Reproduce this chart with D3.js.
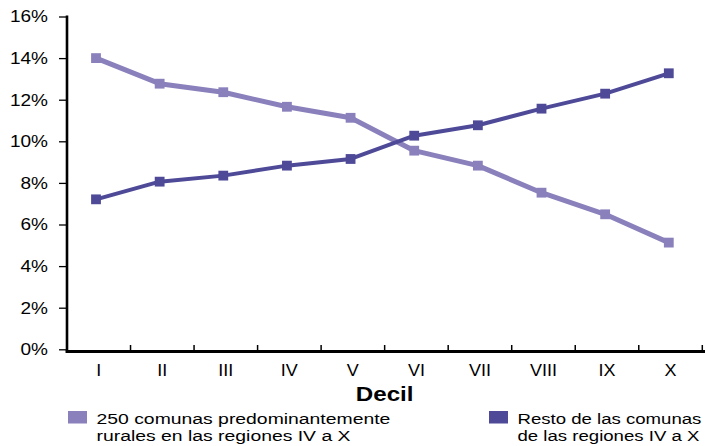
<!DOCTYPE html>
<html><head><meta charset="utf-8">
<script src="https://cdn.jsdelivr.net/npm/d3@7"></script>
<style>body{margin:0;background:#fff}svg{display:block;font-family:"Liberation Sans",Arial,sans-serif}</style>
</head><body><svg id="c" width="705" height="446"></svg>
<script>
const categories = ["I","II","III","IV","V","VI","VII","VIII","IX","X"];
const rural = [14.0, 12.77, 12.36, 11.66, 11.13, 9.55, 8.83, 7.53, 6.49, 5.13];
const resto = [7.21, 8.06, 8.35, 8.83, 9.15, 10.27, 10.77, 11.57, 12.29, 13.27];
const yTicks = [0,2,4,6,8,10,12,14,16];
const seriesNames = [["250 comunas predominantemente","rurales en las regiones IV a X"],["Resto de las comunas","de las regiones IV a X"]];
const colors = ["#8a80bb","#4e4a98"];

const svg = d3.select("#c");
const y = d3.scaleLinear().domain([0,16]).range([349.3,16.5]);
const xb = d3.scaleBand().domain(categories).range([67,702.3]);
const xp = d3.scalePoint().domain(categories).range([96,668.8]);

// y axis
const yAxis = d3.axisLeft(y).tickValues(yTicks).tickFormat(d=>d+"%").tickSize(8).tickPadding(11);
const gy = svg.append("g").attr("transform","translate(67,0)").call(yAxis);
gy.select(".domain").remove();
gy.selectAll(".tick line").attr("stroke","#000").attr("stroke-width",1.3);
gy.selectAll(".tick text").attr("font-size",17).attr("fill","#000").attr("font-family","Liberation Sans, Arial, sans-serif")
  .attr("x",0).attr("transform","translate(-19,0) scale(1.12,1)");
svg.append("line").attr("x1",67).attr("x2",67).attr("y1",y(16)-1).attr("y2",y(0)+3.5).attr("stroke","#000").attr("stroke-width",2.6);

// x axis
const xAxisY = y(0)+2.2;
const gx = svg.append("g").attr("transform",`translate(0,${xAxisY})`).call(d3.axisBottom(xb).tickSize(0).tickPadding(9));
gx.select(".domain").remove();
gx.selectAll(".tick text").attr("font-size",17).attr("fill","#000").attr("dy","0.9em").attr("font-family","Liberation Sans, Arial, sans-serif")
  .attr("transform","scale(1.06,1)");
svg.append("line").attr("x1",65.7).attr("x2",705).attr("y1",xAxisY).attr("y2",xAxisY).attr("stroke","#000").attr("stroke-width",2.8);
svg.append("g").selectAll("line").data(categories).join("line")
  .attr("x1",d=>xb(d)+xb.bandwidth()).attr("x2",d=>xb(d)+xb.bandwidth())
  .attr("y1",xAxisY).attr("y2",xAxisY-6.5).attr("stroke","#000").attr("stroke-width",1.5);
svg.append("text").attr("x",0).attr("y",0).attr("text-anchor","middle")
  .attr("transform",`translate(${(xb.range()[0]+xb.range()[1])/2},401) scale(1.15,1)`)
  .attr("font-size",21).attr("font-weight","bold").text("Decil");

// lines
const series = [rural, resto];
const widths = [5, 4];
const line = d3.line().x((d,i)=>xp(categories[i])).y(d=>y(d));
series.forEach((s,k)=>{
  svg.append("path").datum(s).attr("d",line).attr("fill","none").attr("stroke",colors[k]).attr("stroke-width",widths[k]).attr("stroke-linejoin","round");
});
series.forEach((s,k)=>{
  const sz = 9.8;
  svg.append("g").selectAll("rect").data(s).join("rect")
    .attr("x",(d,i)=>xp(categories[i])-sz/2).attr("y",d=>y(d)-sz/2)
    .attr("width",sz).attr("height",sz).attr("fill",colors[k]);
});

// legend
const legX = [68, 489];
const legScale = [1.25, 1.2];
seriesNames.forEach((lines,k)=>{
  const g = svg.append("g");
  g.append("rect").attr("x",legX[k]).attr("y",411).attr("width",19).attr("height",12.5).attr("fill",colors[k]);
  lines.forEach((t,j)=>{
    g.append("text").attr("x",0).attr("y",0)
      .attr("transform",`translate(${legX[k]+28.5},${424+j*16.5}) scale(${legScale[k]},1)`)
      .attr("font-size",15.5).attr("fill","#000").text(t);
  });
});
</script></body></html>
